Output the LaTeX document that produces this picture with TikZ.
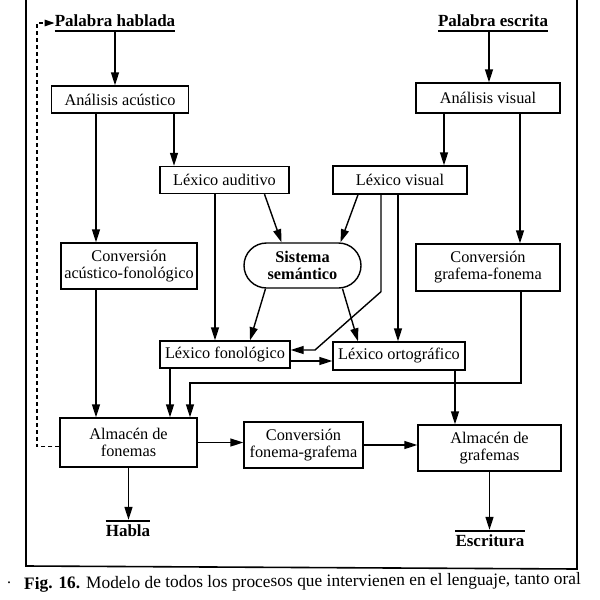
\documentclass[tikz,border=0pt]{standalone}
\usepackage{fontspec}
\setmainfont{Liberation Serif}
\usetikzlibrary{arrows.meta,shapes.misc}
\newcommand\myfs{\fontsize{16.3}{17}\selectfont}
\begin{document}
\begin{tikzpicture}[x=1pt,y=-1pt,
  box/.style={draw,line width=1.4pt,inner sep=1pt,align=center,font=\myfs},
  bx/.style 2 args={box,minimum width=#1,minimum height=#2},
  lbl/.style={inner sep=0pt,font=\fontsize{17}{18}\selectfont\bfseries},
  arr/.style={line width=1.4pt,-{Triangle[length=13pt,width=8pt]}},
  ln/.style={line width=1.4pt},
  dsh/.style={line width=1.4pt,dash pattern=on 4pt off 3pt,-{Triangle[length=10pt,width=6.5pt]}}]
\useasboundingbox (0,0) rectangle (600,600);
% frame
\draw[line width=1.6pt] (26,0) -- (26,566) -- (577,569) -- (577,0);
% top labels
\node[lbl] (ph) at (115,21) {Palabra hablada};
\node[lbl] (pe) at (493,21) {Palabra escrita};
\draw[ln] ([yshift=-4pt]ph.south west) -- ([yshift=-4pt]ph.south east);
\draw[ln] ([yshift=-4pt]pe.south west) -- ([yshift=-4pt]pe.south east);
% boxes
\node[bx={137pt}{27pt}] (aa) at (120,99.5) {Análisis acústico};
\node[bx={144pt}{30pt}] (av) at (488,98) {Análisis visual};
\node[bx={129pt}{27pt}] (la) at (224.5,180) {Léxico auditivo};
\node[bx={134pt}{28pt}] (lv) at (400,180) {Léxico visual};
\node[bx={136pt}{46pt}] (caf) at (129,266) {Conversión\\acústico-fonológico};
\node[draw,line width=1.4pt,rounded rectangle,minimum width=119pt,minimum height=45pt,align=center,inner sep=1pt,font=\myfs\bfseries] (ss) at (302.5,265.5) {Sistema\\semántico};
\node[bx={144pt}{47pt}] (cgf) at (488,267.5) {Conversión\\grafema-fonema};
\node[bx={130pt}{27pt}] (lf) at (225,354.5) {Léxico fonológico};
\node[bx={132pt}{28pt}] (lo) at (399,356) {Léxico ortográfico};
\node[bx={137pt}{49pt}] (af) at (128.5,442.5) {Almacén de\\fonemas};
\node[bx={119pt}{46pt}] (cfg) at (303.5,445) {Conversión\\fonema-grafema};
\node[bx={143pt}{46pt}] (ag) at (489.5,448) {Almacén de\\grafemas};
% bottom labels
\node[lbl] (hb) at (128,531) {Habla};
\node[lbl] (es) at (490,541) {Escritura};
\draw[ln] ([yshift=4pt]hb.north west) -- ([yshift=4pt]hb.north east);
\draw[ln] ([yshift=4pt]es.north west) -- ([yshift=4pt]es.north east);
% arrows
\draw[arr] ([yshift=-4pt]ph.south) -- (aa.north -| ph.south);
\draw[arr] ([xshift=-4pt,yshift=-4pt]pe.south) -- ([xshift=-4pt]av.north -| pe.south);
\draw[arr] ([xshift=-24pt]aa.south) -- ([xshift=-24pt]aa.south |- caf.north);
\draw[arr] ([xshift=54pt]aa.south) -- ([xshift=54pt]aa.south |- la.north);
\draw[arr] ([xshift=-44pt]av.south) -- ([xshift=-44pt]av.south |- lv.north);
\draw[arr] ([xshift=32pt]av.south) -- ([xshift=32pt]av.south |- cgf.north);
\draw[arr] ([xshift=-9.5pt]la.south) -- ([xshift=-9.5pt]la.south |- lf.north);
\draw[arr] ([xshift=40pt]la.south) -- ([xshift=-21pt]ss.north);
\draw[arr] ([xshift=-42pt]lv.south) -- ([xshift=38pt]ss.north);
\draw[arr] ([xshift=-19pt]lv.south) -- ++(0,97) -- (315,350) -- ([yshift=4.5pt]lf.east);
\draw[arr] ([xshift=-2pt]lv.south) -- ([xshift=-2pt]lv.south |- lo.north);
\draw[arr] ([xshift=-37pt]ss.south) -- ([xshift=25pt]lf.north);
\draw[arr] ([xshift=40pt]ss.south) -- ([xshift=-41pt]lo.north);
\draw[arr] ([yshift=-6.5pt]lf.east) -- ([yshift=-6.5pt]lf.east -| lo.west);
\draw[arr] ([xshift=-33pt]caf.south) -- ([xshift=-33pt]caf.south |- af.north);
\draw[arr] ([xshift=-55pt]lf.south) -- ([xshift=-55pt]lf.south |- af.north);
\draw[arr] ([xshift=33pt]cgf.south) |- (190,383) -- (190,383 |- af.north);
\draw[arr] ([xshift=56pt]lo.south) -- ([xshift=56pt]lo.south |- ag.north);
\draw[arr] (af.east) -- (af.east -| cfg.west);
\draw[arr] (cfg.east) -- (cfg.east -| ag.west);
\draw[arr] (af.south) -- ([yshift=5pt]af.south |- hb.north);
\draw[arr] (ag.south) -- ([yshift=5pt]ag.south |- es.north);
\draw[dsh] ([yshift=-4pt]af.west) -- (37,446.5) -- (37,23) -- (ph.west |- 0,23);
% caption
\node[anchor=west,inner sep=0pt,font=\fontsize{16}{17}\selectfont] (dot) at (7,583) {.};
\node[anchor=west,inner sep=0pt,rotate=0.5,font=\fontsize{17.4}{18}\selectfont] (cap) at (24,585) {\textbf{Fig. 16.} Modelo de todos los procesos que intervienen en el lenguaje, tanto oral};
\end{tikzpicture}
\end{document}
